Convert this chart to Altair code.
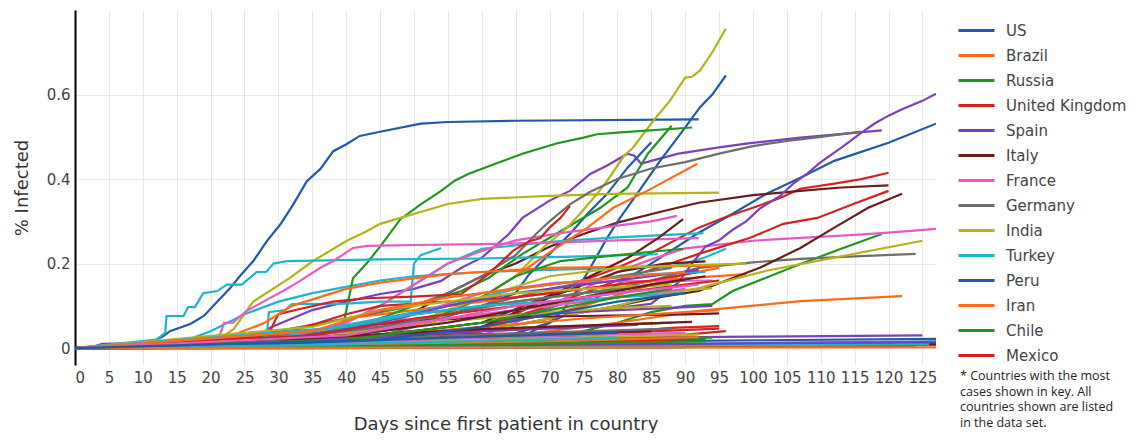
import altair as alt
import pandas as pd

BLUE = "#1f5ba6"; ORANGE = "#ff6a16"; GREEN = "#1f971f"; RED = "#d42222"; PURPLE = "#7c3fbd"
BROWN = "#6a1d1d"; PINK = "#e35bc3"; GRAY = "#6e6e6e"; OLIVE = "#b3b31b"; CYAN = "#1bb5cd"

LEGEND = ["US", "Brazil", "Russia", "United Kingdom", "Spain", "Italy", "France",
          "Germany", "India", "Turkey", "Peru", "Iran", "Chile", "Mexico"]

NOTE = ["* Countries with the most", "cases shown in key. All",
        "countries shown are listed", "in the data set."]

# --- countries in the key: (day, % infected) ---
US = [(0, 0), (40, 0.001), (55, 0.003), (60, 0.008), (65, 0.02), (70, 0.06), (75, 0.1), (80, 0.15),
      (85, 0.2), (92, 0.273), (97, 0.318), (102, 0.365), (107, 0.403), (112, 0.443), (120, 0.486), (127, 0.531)]
BRAZIL = [(0, 0), (20, 0.001), (30, 0.003), (40, 0.01), (50, 0.025), (60, 0.05), (70, 0.08), (75, 0.1),
          (80, 0.125), (85, 0.15), (90, 0.175), (95, 0.19)]
RUSSIA = [(0, 0), (40, 0.0), (50, 0.001), (60, 0.003), (65, 0.01), (70, 0.02), (75, 0.04), (80, 0.06),
          (85, 0.085), (90, 0.1), (94, 0.104), (97, 0.135), (107, 0.199), (113, 0.235), (119, 0.27)]
UK = [(0, 0), (35, 0.0), (45, 0.002), (50, 0.008), (55, 0.02), (60, 0.05), (65, 0.08), (70, 0.12),
      (75, 0.16), (80, 0.19), (85, 0.225), (92, 0.285), (96, 0.31), (100, 0.332), (104, 0.355),
      (107, 0.377), (112, 0.389), (116, 0.4), (120, 0.415)]
SPAIN = [(0, 0), (3, 0.005), (4, 0.01), (20, 0.015), (27, 0.03), (29, 0.05), (35, 0.09), (40, 0.11),
         (45, 0.128), (50, 0.14), (54, 0.159), (57, 0.19), (60, 0.214), (64, 0.27), (66, 0.308), (70, 0.349),
         (73, 0.372), (76, 0.412), (78.5, 0.432), (81.5, 0.46), (82.5, 0.455), (83.5, 0.436), (85, 0.443),
         (89, 0.46), (95, 0.475), (99, 0.484), (107, 0.498), (119, 0.515)]
ITALY = [(0, 0), (25, 0.001), (30, 0.003), (35, 0.008), (40, 0.02), (45, 0.045), (50, 0.085), (55, 0.13),
         (60, 0.17), (65, 0.2), (70, 0.24), (75, 0.27), (80, 0.297), (87, 0.325), (92, 0.344), (100, 0.362),
         (107, 0.372), (113, 0.38), (120, 0.385)]
FRANCE = [(0, 0), (40, 0.001), (50, 0.007), (55, 0.015), (60, 0.03), (65, 0.06), (70, 0.1), (75, 0.14),
          (80, 0.18), (85, 0.21), (90, 0.236), (95, 0.245), (100, 0.254), (107, 0.261), (115, 0.268),
          (120, 0.273), (127, 0.282)]
GERMANY = [(0, 0), (45, 0.002), (50, 0.01), (55, 0.025), (60, 0.045), (65, 0.07), (70, 0.095), (75, 0.12),
           (80, 0.14), (85, 0.16), (92, 0.19), (100, 0.203), (107, 0.211), (115, 0.217), (124, 0.223)]
INDIA = [(0, 0), (60, 0.0), (80, 0.001), (90, 0.002), (100, 0.005), (110, 0.007), (120, 0.012)]
TURKEY = [(0, 0), (10, 0.001), (15, 0.01), (20, 0.04), (25, 0.08), (30, 0.11), (35, 0.13), (40, 0.145),
          (45, 0.16), (50, 0.17), (55, 0.175), (60, 0.18), (70, 0.185), (80, 0.19), (88, 0.193), (90, 0.2),
          (93, 0.215), (96, 0.235)]
PERU = [(0, 0), (20, 0.003), (30, 0.01), (40, 0.03), (50, 0.06), (55, 0.08), (60, 0.1), (65, 0.13),
        (67, 0.175), (70, 0.223), (73, 0.27), (75.6, 0.318), (78.5, 0.365), (81.5, 0.427), (85, 0.487)]
IRAN = [(0, 0), (10, 0.001), (15, 0.005), (20, 0.012), (25, 0.025), (30, 0.04), (35, 0.055), (40, 0.07),
        (45, 0.08), (50, 0.09), (55, 0.1), (60, 0.11), (65, 0.12), (70, 0.13), (75, 0.14), (80, 0.15),
        (90, 0.165), (99, 0.175)]
CHILE = [(0, 0), (10, 0.002), (20, 0.015), (30, 0.035), (40, 0.05), (45, 0.07), (50, 0.1), (52, 0.11),
         (57, 0.135), (61, 0.166), (66, 0.223), (72, 0.28), (77.5, 0.332), (81.5, 0.38), (84.5, 0.46),
         (88, 0.526)]
MEXICO = [(0, 0), (30, 0.001), (40, 0.003), (50, 0.008), (60, 0.015), (70, 0.025), (80, 0.037),
          (88, 0.048), (95, 0.052)]

# --- other countries (not in key) ---
C15 = [(0, 0), (5, 0.005), (10, 0.01), (11, 0.012), (13, 0.028), (14, 0.04), (17, 0.057), (19, 0.076),
       (21, 0.11), (22.9, 0.142), (24.3, 0.17), (26.3, 0.206), (28.3, 0.253), (30.3, 0.293), (32.2, 0.34),
       (34.2, 0.395), (36.2, 0.424), (38.1, 0.466), (40.1, 0.483), (42, 0.502), (45, 0.512), (51, 0.531),
       (55, 0.535), (65, 0.538), (92, 0.541)]
C16 = [(0, 0), (10, 0.001), (20, 0.003), (30, 0.01), (40, 0.03), (50, 0.06), (55, 0.09), (60, 0.12),
       (65, 0.17), (69, 0.237), (72.6, 0.285), (74.5, 0.318), (77, 0.365), (78.5, 0.396), (81, 0.455),
       (82.3, 0.474), (85.3, 0.538), (87.8, 0.586), (90, 0.64), (91, 0.642), (92.2, 0.657), (94, 0.7),
       (96, 0.756)]
C17 = [(0, 0), (20, 0.002), (40, 0.01), (55, 0.02), (65, 0.035), (70, 0.06), (72, 0.09), (74, 0.135),
       (76, 0.19), (78.5, 0.261), (80.4, 0.308), (82.9, 0.365), (86.3, 0.443), (89.3, 0.507), (92.2, 0.57),
       (94, 0.6), (96, 0.645)]
C18 = [(0, 0), (20, 0.01), (30, 0.03), (38, 0.04), (39.5, 0.05), (41, 0.165), (43, 0.2), (45, 0.24),
       (48, 0.305), (51, 0.34), (54, 0.372), (56, 0.396), (58, 0.412), (62, 0.436), (66, 0.46), (71, 0.484),
       (75, 0.498), (77, 0.506), (80, 0.51), (91, 0.522)]
C19 = [(0, 0), (10, 0.005), (15, 0.01), (20, 0.02), (22, 0.03), (23.4, 0.045), (26.3, 0.11), (31.7, 0.166),
       (35.1, 0.206), (40.1, 0.254), (43.1, 0.277), (45, 0.294), (48, 0.308), (55, 0.341), (60, 0.353),
       (70, 0.36), (79, 0.365), (95, 0.368)]
C20 = [(0, 0), (12, 0.02), (13.3, 0.036), (13.5, 0.076), (16, 0.076), (16.7, 0.097), (17.7, 0.097),
       (18.9, 0.13), (21, 0.135), (22.4, 0.15), (24.6, 0.15), (26.8, 0.18), (28.2, 0.18), (29.3, 0.2),
       (31.3, 0.206), (45, 0.21), (60, 0.212), (72, 0.216), (86, 0.222)]
C21 = [(0, 0), (20, 0.01), (28.3, 0.033), (28.6, 0.085), (31, 0.09), (32, 0.104), (40, 0.105), (45, 0.11),
       (49.5, 0.11), (50, 0.2), (51, 0.22), (54, 0.237)]
C22 = [(0, 0), (20, 0.005), (30, 0.02), (40, 0.06), (45, 0.1), (50, 0.15), (55, 0.2), (60, 0.235),
       (72, 0.254), (80, 0.262), (92.7, 0.272)]
C23 = [(0, 0), (15, 0.005), (20, 0.02), (21.4, 0.033), (22, 0.06), (23.3, 0.06), (25.3, 0.088),
       (27.8, 0.11), (30.7, 0.135), (33.2, 0.159), (36.2, 0.19), (38.1, 0.206), (41, 0.237), (43.1, 0.242),
       (50, 0.244), (60, 0.246), (71.6, 0.25), (80, 0.255), (92, 0.26)]
C24 = [(0, 0), (30, 0.02), (40, 0.06), (45, 0.1), (50, 0.15), (55, 0.2), (60, 0.23), (65, 0.255),
       (71.6, 0.272), (80, 0.29), (85, 0.3), (88.8, 0.313)]
C25 = [(0, 0), (30, 0.01), (50, 0.04), (60, 0.06), (70, 0.08), (80, 0.095), (85, 0.105), (87, 0.13),
       (89, 0.155), (91, 0.2), (93, 0.24), (95, 0.255), (97, 0.28), (99, 0.3), (101, 0.33), (104, 0.36),
       (106, 0.39), (108, 0.413), (110, 0.44), (113, 0.474), (116, 0.51), (118, 0.532), (120, 0.55),
       (122, 0.565), (125, 0.585), (127, 0.602)]
C26 = [(0, 0), (20, 0.02), (30, 0.04), (40, 0.07), (50, 0.1), (55, 0.13), (60, 0.17), (65, 0.22),
       (68, 0.27), (70, 0.3), (73, 0.34), (76, 0.37), (80, 0.4), (85, 0.425), (90, 0.44), (95, 0.46),
       (100, 0.478), (105, 0.49), (110, 0.5), (116, 0.512)]
C27 = [(0, 0), (20, 0.005), (30, 0.01), (40, 0.03), (50, 0.06), (55, 0.08), (60, 0.12), (65, 0.17),
       (69.7, 0.223), (75.6, 0.285), (79.4, 0.332), (84.4, 0.372), (91.8, 0.436)]
C28 = [(0, 0), (30, 0.005), (50, 0.02), (60, 0.05), (70, 0.1), (80, 0.16), (86, 0.19), (92, 0.223),
       (99.6, 0.261), (104.5, 0.294), (109.5, 0.308), (114.8, 0.341), (120, 0.372)]
C29 = [(0, 0), (30, 0.005), (50, 0.02), (60, 0.04), (70, 0.07), (80, 0.1), (86, 0.12), (92, 0.135),
       (101, 0.19), (107, 0.237), (112, 0.285), (117, 0.332), (122, 0.365)]
C30 = [(0, 0), (40, 0.01), (60, 0.04), (70, 0.07), (80, 0.1), (86, 0.125), (92, 0.142), (102, 0.183),
       (112, 0.214), (125, 0.254)]
C31 = [(0, 0), (40, 0.005), (60, 0.02), (70, 0.04), (80, 0.06), (92, 0.088), (107, 0.111), (122, 0.123)]
C32 = [(0, 0), (20, 0.005), (28, 0.01), (29.3, 0.058), (30, 0.08), (33, 0.092), (38, 0.11), (43, 0.118),
       (50, 0.122), (57, 0.128), (61, 0.175), (64.6, 0.23), (67, 0.253), (68.6, 0.26), (70, 0.285),
       (71.6, 0.308), (73, 0.336)]
C33 = [(0, 0), (20, 0.01), (28, 0.06), (32, 0.1), (36, 0.12), (40, 0.14), (45, 0.155), (50, 0.165),
       (55, 0.175), (60, 0.18), (70, 0.19), (80, 0.192), (95, 0.195)]
C34 = [(0, 0), (30, 0.01), (50, 0.04), (60, 0.06), (71.6, 0.135), (76, 0.17), (81.5, 0.213), (86, 0.26),
       (89.7, 0.305)]
C35 = [(0, 0), (30, 0.01), (50, 0.05), (60, 0.12), (65, 0.17), (71.6, 0.206), (80, 0.22), (89.7, 0.235)]
C36 = [(0, 0), (40, 0.01), (60, 0.05), (70, 0.12), (80, 0.18), (87, 0.2), (93, 0.205)]
C37 = [(0, 0), (30, 0.01), (50, 0.06), (60, 0.12), (70, 0.17), (80, 0.19), (90, 0.196), (99, 0.2)]
C38 = [(0, 0), (40, 0.01), (50, 0.05), (60, 0.1), (70, 0.14), (80, 0.17), (88, 0.19)]
C39 = [(0, 0), (40, 0.02), (50, 0.08), (60, 0.13), (71, 0.155), (80, 0.158), (94, 0.16)]
C40 = [(0, 0), (20, 0.01), (40, 0.05), (60, 0.075), (80, 0.09), (88, 0.095), (94, 0.1)]
C41 = [(0, 0), (30, 0.02), (50, 0.06), (70, 0.1), (85, 0.13), (94, 0.142)]
C42 = [(0, 0), (50, 0.005), (70, 0.015), (85, 0.025), (96, 0.04)]
C43 = [(0, 0), (30, 0.03), (40, 0.08), (45, 0.1), (55, 0.11), (65, 0.12), (75, 0.14), (85, 0.16), (92, 0.18)]
C44 = [(0, 0), (10, 0.005), (20, 0.01), (30, 0.03), (40, 0.05), (50, 0.065), (60, 0.072), (75, 0.076),
       (90, 0.08), (95, 0.082)]
C45 = [(0, 0), (20, 0.01), (30, 0.03), (40, 0.05), (50, 0.08), (60, 0.1), (70, 0.12), (80, 0.14), (87, 0.15)]
C46 = [(0, 0), (5, 0.005), (20, 0.025), (30, 0.035), (40, 0.045), (50, 0.055), (60, 0.07), (70, 0.085),
       (80, 0.095), (88, 0.1)]
C47 = [(0, 0), (20, 0.01), (40, 0.02), (55, 0.04), (70, 0.05), (80, 0.055), (88, 0.06)]
C48 = [(0, 0), (25, 0.01), (35, 0.04), (45, 0.07), (55, 0.1), (65, 0.14), (75, 0.16), (85, 0.175), (93, 0.18)]
C49 = [(0, 0), (30, 0.01), (45, 0.03), (60, 0.05), (75, 0.07), (90, 0.085), (95, 0.09)]
C50 = [(0, 0), (30, 0.02), (45, 0.05), (60, 0.08), (70, 0.1), (80, 0.12), (90, 0.14)]
C51 = [(0, 0), (20, 0.005), (50, 0.015), (80, 0.024), (100, 0.027), (125, 0.03)]
C52 = [(0, 0), (30, 0.003), (60, 0.01), (90, 0.017), (127, 0.022)]
C53 = [(0, 0), (17, 0.0), (60, 0.006), (100, 0.012), (127, 0.016)]
C54 = [(0, 0), (40, 0.002), (90, 0.008), (127, 0.012)]
C55 = [(0, 0), (60, 0.002), (124, 0.005)]
C56 = [(0, 0), (70, 0.003), (127, 0.008)]
C57 = [(0, 0), (30, 0.004), (60, 0.012), (93, 0.022)]
C58 = [(0, 0), (30, 0.005), (60, 0.015), (94, 0.025)]
C59 = [(0, 0), (50, 0.003), (126, 0.009)]
C60 = [(0, 0), (40, 0.004), (90, 0.01), (127, 0.015)]
C61 = [(0, 0), (40, 0.01), (70, 0.03), (95, 0.046)]
C62 = [(0, 0), (30, 0.008), (60, 0.02), (92, 0.032)]
C63 = [(0, 0), (30, 0.01), (60, 0.025), (90, 0.036)]
C64 = [(0, 0), (20, 0.01), (50, 0.03), (85, 0.04)]
C65 = [(0, 0), (25, 0.01), (55, 0.03), (88, 0.046)]
C66 = [(0, 0), (30, 0.01), (55, 0.025), (80, 0.036)]
C67 = [(0, 0), (40, 0.006), (70, 0.016), (92, 0.026)]
C68 = [(0, 0), (40, 0.004), (93, 0.016)]
C69 = [(0, 0), (30, 0.006), (80, 0.025)]
C70 = [(0, 0), (30, 0.015), (60, 0.04), (87, 0.06)]
C71 = [(0, 0), (30, 0.015), (60, 0.04), (83, 0.055)]
C72 = [(0, 0), (30, 0.02), (60, 0.045), (91, 0.062)]
C73 = [(0, 0), (90, 0.001)]
C74 = [(0, 0), (17, 0.001)]
C75 = [(0, 0), (127, 0.002)]
C76 = [(0, 0), (30, 0.02), (45, 0.06), (55, 0.1), (65, 0.13), (75, 0.15), (85, 0.17), (92, 0.185)]
C77 = [(0, 0), (30, 0.02), (45, 0.05), (55, 0.08), (65, 0.11), (75, 0.13), (85, 0.15), (90, 0.16)]
C78 = [(0, 0), (35, 0.03), (50, 0.07), (60, 0.09), (70, 0.11), (80, 0.13), (90, 0.15), (95, 0.16)]
C79 = [(0, 0), (35, 0.05), (45, 0.09), (55, 0.11), (65, 0.13), (75, 0.14), (88, 0.15)]
C80 = [(0, 0), (40, 0.05), (50, 0.08), (60, 0.1), (70, 0.11), (80, 0.12), (90, 0.13)]
C81 = [(0, 0), (40, 0.03), (55, 0.06), (65, 0.09), (75, 0.12), (85, 0.15), (93, 0.17)]
C82 = [(0, 0), (40, 0.02), (50, 0.04), (60, 0.06), (70, 0.09), (80, 0.12), (88, 0.14)]
C83 = [(0, 0), (35, 0.04), (45, 0.09), (55, 0.12), (65, 0.14), (75, 0.16), (90, 0.18)]
C84 = [(0, 0), (40, 0.03), (55, 0.07), (65, 0.1), (80, 0.13), (92, 0.15)]
C85 = [(0, 0), (45, 0.02), (60, 0.05), (70, 0.08), (80, 0.11), (90, 0.13)]

SERIES = [
    ("US", BLUE, US), ("Brazil", ORANGE, BRAZIL), ("Russia", GREEN, RUSSIA),
    ("United Kingdom", RED, UK), ("Spain", PURPLE, SPAIN), ("Italy", BROWN, ITALY),
    ("France", PINK, FRANCE), ("Germany", GRAY, GERMANY), ("India", OLIVE, INDIA),
    ("Turkey", CYAN, TURKEY), ("Peru", BLUE, PERU), ("Iran", ORANGE, IRAN),
    ("Chile", GREEN, CHILE), ("Mexico", RED, MEXICO),
    ("c15", BLUE, C15), ("c16", OLIVE, C16), ("c17", BLUE, C17), ("c18", GREEN, C18),
    ("c19", OLIVE, C19), ("c20", CYAN, C20), ("c21", CYAN, C21), ("c22", CYAN, C22),
    ("c23", PINK, C23), ("c24", PINK, C24), ("c25", PURPLE, C25), ("c26", GRAY, C26),
    ("c27", ORANGE, C27), ("c28", RED, C28), ("c29", BROWN, C29), ("c30", OLIVE, C30),
    ("c31", ORANGE, C31), ("c32", RED, C32), ("c33", ORANGE, C33), ("c34", BROWN, C34),
    ("c35", GREEN, C35), ("c36", BROWN, C36), ("c37", OLIVE, C37), ("c38", GRAY, C38),
    ("c39", PINK, C39), ("c40", PURPLE, C40), ("c41", OLIVE, C41), ("c42", RED, C42),
    ("c43", RED, C43), ("c44", BROWN, C44), ("c45", GRAY, C45), ("c46", OLIVE, C46),
    ("c47", GREEN, C47), ("c48", CYAN, C48), ("c49", ORANGE, C49), ("c50", PINK, C50),
    ("c51", PURPLE, C51), ("c52", BLUE, C52), ("c53", CYAN, C53), ("c54", BLUE, C54),
    ("c55", GRAY, C55), ("c56", BROWN, C56), ("c57", RED, C57), ("c58", GREEN, C58),
    ("c59", CYAN, C59), ("c60", PURPLE, C60), ("c61", RED, C61), ("c62", OLIVE, C62),
    ("c63", PINK, C63), ("c64", BROWN, C64), ("c65", GRAY, C65), ("c66", BLUE, C66),
    ("c67", ORANGE, C67), ("c68", GREEN, C68), ("c69", CYAN, C69), ("c70", RED, C70),
    ("c71", PURPLE, C71), ("c72", BROWN, C72), ("c73", CYAN, C73), ("c74", BLUE, C74),
    ("c75", ORANGE, C75), ("c76", PURPLE, C76), ("c77", GRAY, C77), ("c78", RED, C78),
    ("c79", OLIVE, C79), ("c80", CYAN, C80), ("c81", BROWN, C81), ("c82", GREEN, C82),
    ("c83", ORANGE, C83), ("c84", PINK, C84), ("c85", BLUE, C85),
]

rows = []
for name, _, pts in SERIES:
    for d, v in pts:
        rows.append({"country": name, "day": d, "pct": v})
df = pd.DataFrame(rows)
names = [s[0] for s in SERIES]
colors = [s[1] for s in SERIES]

FONT = "DejaVu Sans"

lines = alt.Chart(df).mark_line(strokeWidth=2.2, clip=True).encode(
    x=alt.X("day:Q",
            scale=alt.Scale(domain=[0, 127], nice=False, zero=False),
            axis=alt.Axis(values=list(range(0, 126, 5)), title="Days since first patient in country",
                          grid=True, gridColor="#e8e8e8", gridWidth=1, domain=False, ticks=False,
                          labelFontSize=15, labelColor="#444", labelPadding=5, labelFont=FONT,
                          titleFont=FONT, titleFontSize=18, titleFontWeight="normal",
                          titleColor="#333", titlePadding=30)),
    y=alt.Y("pct:Q",
            scale=alt.Scale(domain=[-0.04, 0.8], nice=False, zero=False),
            axis=alt.Axis(values=[0, 0.2, 0.4, 0.6], format="~g", title="% Infected",
                          grid=True, gridColor="#e8e8e8", gridWidth=1, domain=True,
                          domainColor="#000", domainWidth=2, ticks=False,
                          labelFontSize=15, labelColor="#444", labelPadding=5, labelFont=FONT,
                          titleFont=FONT, titleFontSize=18, titleFontWeight="normal",
                          titleColor="#333", titlePadding=15)),
    color=alt.Color("country:N",
                    scale=alt.Scale(domain=names, range=colors),
                    legend=alt.Legend(values=LEGEND, title=None, orient="none",
                                      legendX=882, legendY=8, symbolType="stroke",
                                      symbolSize=1296, symbolStrokeWidth=3,
                                      labelFont=FONT, labelFontSize=15, labelColor="#444",
                                      labelOffset=10, labelLimit=300, clipHeight=25,
                                      rowPadding=0, padding=0)),
)

note = alt.Chart(pd.DataFrame({"k": [0]})).mark_text(
    text=NOTE, align="left", baseline="top", font="Open Sans", fontSize=12.5,
    lineHeight=15.5, color="#222"
).encode(x=alt.value(885), y=alt.value(360))

chart = alt.layer(lines, note).properties(
    width=861, height=355, autosize="none",
    padding={"left": 67, "top": 2, "right": 190, "bottom": 68},
    background="white",
).configure_view(stroke=None)

chart.save("out.html", embed_options={"renderer": "svg", "actions": False})
